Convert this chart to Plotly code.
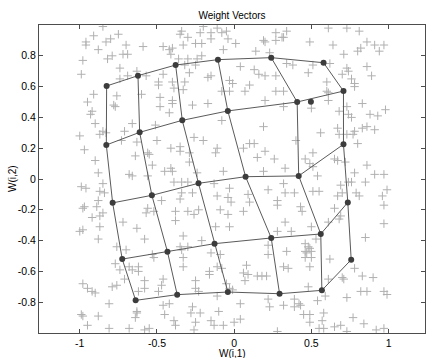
import plotly.graph_objects as go

# ---- SOM neuron weights: 5 rows x 6 columns (row-major, top row first) ----
weight_x = [
    [-0.826, -0.623, -0.379, -0.105, 0.240, 0.579],
    [-0.828, -0.612, -0.336, -0.041, 0.408, 0.708],
    [-0.787, -0.533, -0.231, 0.074, 0.418, 0.708],
    [-0.725, -0.432, -0.127, 0.240, 0.561, 0.736],
    [-0.638, -0.369, -0.041, 0.294, 0.568, 0.758],
]
weight_y = [
    [0.604, 0.671, 0.740, 0.775, 0.788, 0.755],
    [0.221, 0.303, 0.381, 0.442, 0.500, 0.571],
    [-0.155, -0.106, -0.028, 0.015, 0.020, 0.225],
    [-0.520, -0.472, -0.420, -0.383, -0.357, -0.152],
    [-0.788, -0.751, -0.734, -0.745, -0.723, -0.524],
]
# an extra neuron drawn without links
extra_x = [0.497]
extra_y = [0.502]

# ---- input vectors ----
input_points = [
    (-0.85, 0.99), (-0.91, 0.93), (-0.96, 0.89), (-0.96, 0.87), (-0.88, 0.84), (-0.83, 0.89),
    (-0.80, 0.91), (-0.75, 0.94), (-0.70, 0.87), (-0.59, 0.86), (-0.46, 0.86), (-0.82, 0.78),
    (-0.79, 0.80), (-0.72, 0.81), (-0.69, 0.81), (-0.98, 0.77), (-0.99, 0.68), (-0.74, 0.72),
    (-0.63, 0.70), (-0.69, 0.67), (-0.74, 0.65), (-0.57, 0.67), (-0.49, 0.63), (-0.49, 0.61),
    (-0.46, 0.68), (-0.91, 0.55), (-0.95, 0.50), (-0.76, 0.54), (-0.78, 0.48), (-0.77, 0.47),
    (-0.92, 0.44), (-0.93, 0.42), (-0.60, 0.55), (-0.48, 0.53), (-0.48, 0.47), (-0.90, 0.36),
    (-0.66, 0.36), (-0.51, 0.35), (-1.00, 0.28), (-0.85, 0.31), (-0.83, 0.30), (-0.87, 0.29),
    (-0.71, 0.31), (-0.73, 0.25), (-0.63, 0.24), (-0.50, 0.25), (-0.97, 0.19), (-0.90, 0.12),
    (-0.64, 0.15), (-0.56, 0.17), (-0.55, 0.16), (-0.53, 0.09), (-0.45, 0.05), (-0.88, 0.04),
    (-0.68, 0.03), (-0.66, 0.02), (-0.56, 0.02),
    (-0.34, 0.96), (-0.35, 0.94), (-0.30, 0.92), (-0.22, 0.95), (-0.20, 0.99), (-0.15, 0.95),
    (-0.15, 0.91), (-0.11, 0.98), (-0.08, 0.95), (-0.05, 0.96), (-0.04, 0.91), (0.01, 0.88),
    (-0.25, 0.88), (-0.21, 0.88), (-0.33, 0.87), (-0.40, 0.85), (-0.42, 0.84), (-0.41, 0.81),
    (-0.07, 0.84), (0.19, 0.90), (0.20, 0.89), (0.27, 0.95), (0.27, 0.90), (0.31, 0.92),
    (0.32, 0.92), (0.34, 0.96), (0.14, 0.83), (0.23, 0.82), (-0.36, 0.78), (-0.30, 0.78),
    (-0.24, 0.78), (-0.21, 0.80), (-0.32, 0.74), (-0.25, 0.74), (-0.29, 0.69), (-0.17, 0.66),
    (-0.15, 0.67), (0.04, 0.73), (0.13, 0.71), (0.16, 0.68), (0.20, 0.67), (0.27, 0.67),
    (0.34, 0.75), (0.38, 0.74), (-0.03, 0.64), (-0.01, 0.62), (0.10, 0.61), (-0.40, 0.63),
    (-0.39, 0.59), (-0.32, 0.63), (-0.33, 0.58), (-0.08, 0.57), (-0.03, 0.57), (0.07, 0.57),
    (0.27, 0.57), (0.32, 0.57), (0.20, 0.51), (-0.40, 0.51), (-0.40, 0.49), (-0.27, 0.48),
    (-0.17, 0.49), (0.32, 0.47), (-0.42, 0.43), (-0.08, 0.38), (0.19, 0.34), (-0.26, 0.27),
    (-0.20, 0.25), (-0.41, 0.20), (-0.35, 0.21), (-0.35, 0.18), (-0.29, 0.17), (-0.11, 0.20),
    (-0.12, 0.17), (0.06, 0.20), (0.10, 0.23), (0.13, 0.23), (0.20, 0.18), (0.15, 0.14),
    (0.26, 0.13), (0.33, 0.07), (0.40, 0.25), (-0.29, 0.11), (-0.41, 0.07), (-0.40, 0.05),
    (-0.24, 0.04), (-0.07, 0.05), (0.19, 0.05),
    (0.61, 0.98), (0.73, 0.98), (0.81, 0.96), (0.49, 0.89), (0.64, 0.87), (0.86, 0.89),
    (0.82, 0.85), (0.80, 0.83), (0.91, 0.87), (0.97, 0.87), (0.94, 0.83), (0.71, 0.81),
    (0.51, 0.74), (0.62, 0.75), (0.48, 0.69), (0.73, 0.72), (0.74, 0.70), (0.70, 0.68),
    (0.86, 0.73), (0.89, 0.67), (0.76, 0.65), (0.78, 0.62), (0.78, 0.60), (0.60, 0.63),
    (0.60, 0.57), (0.61, 0.56), (0.61, 0.51), (0.50, 0.46), (0.68, 0.44), (0.73, 0.47),
    (0.74, 0.42), (0.76, 0.40), (0.83, 0.49), (0.88, 0.42), (0.93, 0.41), (0.98, 0.45),
    (0.67, 0.33), (0.56, 0.30), (0.68, 0.29), (0.73, 0.29), (0.78, 0.31), (0.77, 0.29),
    (0.83, 0.33), (0.86, 0.34), (0.91, 0.32), (0.80, 0.23), (0.51, 0.17), (0.46, 0.13),
    (0.65, 0.13), (0.67, 0.12), (0.72, 0.11), (0.49, 0.10), (0.51, 0.08), (0.54, 0.02),
    (0.78, 0.04), (0.86, 0.09), (0.91, 0.03), (0.97, 0.03),
    (-0.99, -0.05), (-0.96, -0.06), (-0.85, -0.03), (-0.87, -0.08), (-0.84, -0.09), (-0.88, -0.14),
    (-0.97, -0.18), (-0.98, -0.19), (-0.89, -0.18), (-0.85, -0.22), (-0.87, -0.24), (-0.92, -0.25),
    (-0.98, -0.33), (-1.00, -0.34), (-0.87, -0.31), (-0.88, -0.39), (-0.72, -0.28), (-0.63, -0.32),
    (-0.76, -0.44), (-0.70, -0.46), (-0.58, -0.39), (-0.56, -0.19), (-0.57, -0.22), (-0.52, -0.21),
    (-0.47, -0.14), (-0.77, -0.55), (-0.74, -0.59), (-0.68, -0.57), (-0.66, -0.59), (-0.62, -0.57),
    (-0.62, -0.60), (-0.58, -0.66), (-0.53, -0.49), (-0.52, -0.51), (-0.46, -0.65), (-0.58, -0.71),
    (-0.62, -0.73), (-0.49, -0.73), (-0.47, -0.69), (-0.98, -0.68), (-0.95, -0.71), (-0.92, -0.73),
    (-0.90, -0.74), (-0.79, -0.70), (-0.76, -0.69), (-0.71, -0.65), (-0.81, -0.81), (-0.99, -0.88),
    (-0.98, -0.89), (-0.88, -0.89), (-0.95, -0.95), (-0.81, -0.97), (-0.68, -0.97), (-0.63, -0.86),
    (-0.63, -0.87), (-0.64, -0.90), (-0.58, -0.98), (-0.55, -0.97), (-0.46, -0.82), (-0.45, -0.88),
    (-0.39, -0.02), (-0.34, -0.02), (-0.30, -0.02), (-0.34, -0.09), (-0.27, -0.09), (-0.35, -0.13),
    (-0.13, -0.03), (-0.03, -0.06), (-0.11, -0.11), (-0.04, -0.12), (-0.02, -0.15), (0.09, -0.10),
    (0.10, -0.15), (0.22, -0.07), (0.32, -0.03), (0.33, -0.09), (0.28, -0.14), (0.28, -0.17),
    (0.39, -0.09), (-0.38, -0.21), (-0.38, -0.27), (-0.30, -0.21), (-0.26, -0.23), (-0.23, -0.20),
    (-0.09, -0.20), (-0.04, -0.23), (0.06, -0.21), (-0.12, -0.31), (-0.03, -0.31), (-0.21, -0.40),
    (-0.33, -0.37), (-0.35, -0.44), (-0.34, -0.46), (-0.30, -0.44), (0.33, -0.28), (0.37, -0.34),
    (0.22, -0.43), (0.22, -0.49), (0.28, -0.34), (0.34, -0.47), (-0.33, -0.51), (-0.33, -0.57),
    (-0.15, -0.48), (-0.09, -0.49), (-0.11, -0.57), (-0.08, -0.58), (-0.16, -0.60), (-0.16, -0.62),
    (0.08, -0.56), (0.06, -0.61), (0.09, -0.62), (0.07, -0.66), (0.15, -0.63), (0.18, -0.63),
    (0.21, -0.63), (0.32, -0.57), (0.35, -0.58), (-0.25, -0.66), (-0.25, -0.71), (-0.23, -0.73),
    (-0.05, -0.68), (-0.03, -0.71), (-0.01, -0.72), (-0.11, -0.76), (-0.42, -0.81), (-0.27, -0.83),
    (-0.28, -0.87), (-0.22, -0.87), (-0.10, -0.86), (0.04, -0.81), (0.22, -0.78), (0.23, -0.83),
    (0.32, -0.82), (-0.39, -0.92), (-0.38, -0.95), (-0.25, -0.93), (-0.15, -0.92), (-0.13, -0.95),
    (-0.07, -0.95), (0.00, -0.93), (0.04, -0.91), (-0.26, -0.98), (0.28, -0.99), (0.39, -0.83),
    (0.39, -0.78),
    (0.51, -0.08), (0.55, -0.08), (0.69, -0.04), (0.74, -0.02), (0.76, -0.02), (0.67, -0.11),
    (0.70, -0.09), (0.79, -0.09), (0.81, -0.11), (0.85, -0.02), (0.99, -0.07), (0.96, -0.11),
    (0.97, -0.17), (0.43, -0.18), (0.44, -0.21), (0.65, -0.19), (0.69, -0.24), (0.68, -0.26),
    (0.61, -0.28), (0.97, -0.29), (0.50, -0.31), (0.85, -0.38), (0.53, -0.39), (0.46, -0.42),
    (0.48, -0.44), (0.49, -0.45), (0.46, -0.47), (0.50, -0.47), (0.47, -0.48), (0.50, -0.51),
    (0.46, -0.51), (0.62, -0.52), (0.49, -0.57), (0.78, -0.58), (0.61, -0.65), (0.70, -0.64),
    (0.71, -0.65), (0.83, -0.63), (0.90, -0.64), (0.82, -0.73), (0.86, -0.73), (0.97, -0.73),
    (0.99, -0.75), (0.48, -0.70), (0.59, -0.76), (0.54, -0.79), (0.73, -0.77), (0.42, -0.81),
    (0.43, -0.82), (0.45, -0.88), (0.49, -0.88), (0.49, -0.93), (0.58, -0.87), (0.57, -0.92),
    (0.55, -0.97), (0.58, -0.97), (0.65, -0.96), (0.69, -0.95), (0.73, -0.99), (0.77, -0.90),
    (0.84, -0.94), (0.92, -0.98), (0.97, -0.97),
]
input_x = [p[0] for p in input_points]
input_y = [p[1] for p in input_points]

x_ticks = [-1, -0.5, 0, 0.5, 1]
x_ticktext = ["-1", "-0.5", "0", "0.5", "1"]
y_ticks = [-0.8, -0.6, -0.4, -0.2, 0, 0.2, 0.4, 0.6, 0.8]
y_ticktext = ["-0.8", "-0.6", "-0.4", "-0.2", "0", "0.2", "0.4", "0.6", "0.8"]

# ---- build neighbour links (rows and columns) ----
n_rows = len(weight_x)
n_cols = len(weight_x[0])
link_x, link_y = [], []
for r in range(n_rows):
    link_x += weight_x[r] + [None]
    link_y += weight_y[r] + [None]
for c in range(n_cols):
    link_x += [weight_x[r][c] for r in range(n_rows)] + [None]
    link_y += [weight_y[r][c] for r in range(n_rows)] + [None]

node_x = [v for row in weight_x for v in row] + extra_x
node_y = [v for row in weight_y for v in row] + extra_y

FONT = "Liberation Sans, Arial, Helvetica, sans-serif"

fig = go.Figure()
fig.add_trace(go.Scatter(
    x=input_x, y=input_y, mode="markers",
    marker=dict(symbol="cross-thin-open", size=6, line=dict(width=1, color="#b0b0b0"), color="#b0b0b0"),
    hoverinfo="skip", showlegend=False,
))
fig.add_trace(go.Scatter(
    x=link_x, y=link_y, mode="lines",
    line=dict(color="#5a5a5a", width=1), hoverinfo="skip", showlegend=False,
))
fig.add_trace(go.Scatter(
    x=node_x, y=node_y, mode="markers",
    marker=dict(symbol="circle", size=6, color="#3c3c3c"), showlegend=False,
))

axis_common = dict(
    showline=True, linecolor="#4d4d4d", linewidth=1, mirror="ticks",
    ticks="inside", ticklen=4, tickcolor="#4d4d4d", tickwidth=1,
    showgrid=False, zeroline=False,
    tickfont=dict(family=FONT, size=10.5, color="#000000"),
)
fig.update_xaxes(range=[-1.264, 1.236], tickvals=x_ticks, ticktext=x_ticktext, **axis_common)
fig.update_yaxes(range=[-1, 1], tickvals=y_ticks, ticktext=y_ticktext, **axis_common)

fig.update_layout(
    width=426, height=358,
    margin=dict(l=39, r=1, t=25, b=25, pad=0),
    paper_bgcolor="white", plot_bgcolor="white",
    title=dict(text="Weight Vectors", x=0.5, xref="paper", y=1 - 15.5 / 358, yanchor="middle",
               font=dict(family=FONT, size=10, color="#000000")),
    annotations=[
        dict(text="W(i,1)", xref="paper", yref="paper", x=0.5, y=(333 - 353) / 308,
             showarrow=False, xanchor="center", yanchor="middle",
             font=dict(family=FONT, size=10, color="#000000")),
        dict(text="W(i,2)", xref="paper", yref="paper", x=(12 - 39) / 386, y=0.5, textangle=-90,
             showarrow=False, xanchor="center", yanchor="middle",
             font=dict(family=FONT, size=10, color="#000000")),
    ],
)

fig.write_html(
    "out.html",
    config={"displayModeBar": False},
    post_script="document.body.style.margin='0';document.body.style.overflow='hidden';",
)
